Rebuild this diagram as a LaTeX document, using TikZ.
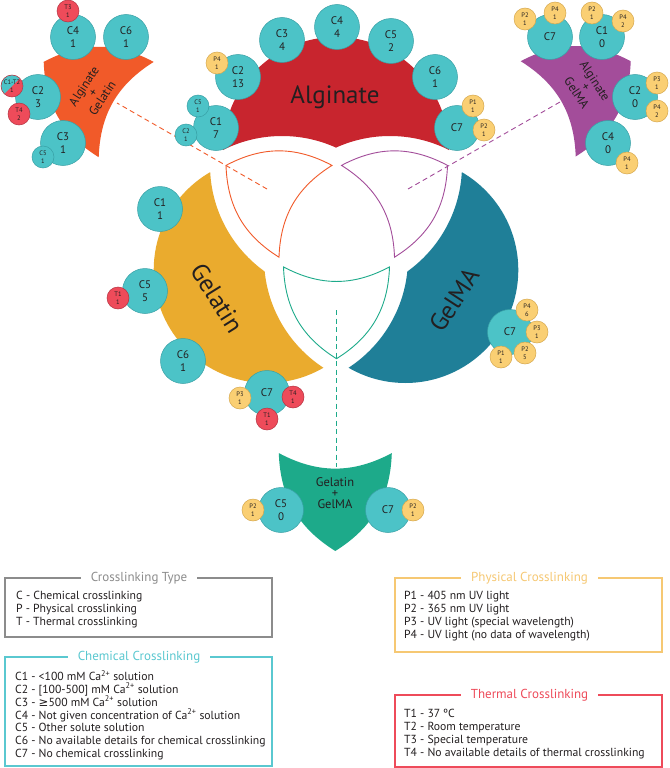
\documentclass[tikz,border=0pt]{standalone}
\usepackage{fontspec}
\setmainfont{PT Sans}
\newfontfamily\symbolfont{DejaVu Sans}
\usepackage{xcolor}
\usepackage{tikz}

\begin{document}
\begin{tikzpicture}[x=1pt,y=-1pt,
  chem/.style={circle,draw=chemLine,fill=chemFill,line width=0.5pt,inner sep=0pt,
    minimum size=45pt,align=center,text=darkText,font=\fontsize{11}{12.7}\selectfont},
  chemsmall/.style={chem,minimum size=22pt,font=\fontsize{6.5}{8}\selectfont},
  phys/.style={chemsmall,draw=physLine,fill=physFill},
  therm/.style={chemsmall,draw=thermLine,fill=thermFill},
  lensline/.style={line width=0.9pt},
  linkline/.style={line width=0.9pt,dash pattern=on 5pt off 3.5pt},
  regiontext/.style={text=darkText,inner sep=0pt,font=\fontsize{25}{30}\selectfont},
  labeltext/.style={text=darkText,inner sep=0pt,align=center,font=\fontsize{12.5}{11}\selectfont},
  boxline/.style={line width=1.6pt},
  boxtitle/.style={fill=white,inner xsep=10pt,inner ysep=1pt,font=\fontsize{13}{15}\selectfont},
  legendtext/.style={text=darkText,inner sep=0pt,anchor=north west,align=left,font=\fontsize{11.7}{12.9}\selectfont}
]
\definecolor{alginateRed}{RGB}{200,37,46}
\definecolor{gelatinGold}{RGB}{234,171,46}
\definecolor{gelmaTeal}{RGB}{31,127,152}
\definecolor{agOrange}{RGB}{241,90,41}
\definecolor{amPurple}{RGB}{163,77,154}
\definecolor{ggGreen}{RGB}{29,170,138}
\definecolor{chemFill}{RGB}{76,195,199}
\definecolor{chemLine}{RGB}{56,160,165}
\definecolor{physFill}{RGB}{250,207,115}
\definecolor{physLine}{RGB}{214,168,78}
\definecolor{thermFill}{RGB}{238,75,90}
\definecolor{thermLine}{RGB}{180,50,65}
\definecolor{boxGray}{RGB}{140,140,140}
\definecolor{boxTeal}{RGB}{90,200,208}
\definecolor{boxYellow}{RGB}{246,200,115}
\definecolor{boxRed}{RGB}{238,75,90}
\definecolor{darkText}{RGB}{35,31,32}
\path[use as bounding box,fill=white] (0,0) rectangle (669,768);

% the three materials
\begin{scope}[even odd rule]
\clip (-10,-10) rectangle (700,800) (282,267) circle (131);
\clip (-10,-10) rectangle (700,800) (390,267) circle (131);
\fill[alginateRed] (336,150) circle (113);
\end{scope}
\begin{scope}[even odd rule]
\clip (-10,-10) rectangle (700,800) (341,165) circle (131);
\clip (-10,-10) rectangle (700,800) (395,258) circle (131);
\fill[gelatinGold] (266.7,270) circle (113);
\end{scope}
\begin{scope}[even odd rule]
\clip (-10,-10) rectangle (700,800) (331,165) circle (131);
\clip (-10,-10) rectangle (700,800) (277,258) circle (131);
\fill[gelmaTeal] (405.3,270) circle (113);
\end{scope}

\node[regiontext] (alginateTxt) at (335,97) {Alginate};
\node[regiontext,rotate=-58] (gelatinTxt) at (217,298) {Gelatin};
\node[regiontext,rotate=57] (gelmaTxt) at (454,300) {GelMA};

% overlaps
\path[draw=agOrange,lensline] (226,165.4) to[bend left=28] (332,165.4) to[bend right=28] (279,257.2) to[bend left=28] (226,165.4) -- cycle;
\path[draw=amPurple,lensline] (341.5,165.4) to[bend left=28] (447.5,165.4) to[bend left=28] (394.5,257.2) to[bend right=28] (341.5,165.4) -- cycle;
\path[draw=ggGreen,lensline] (283.5,266.9) to[bend right=28] (389.5,266.9) to[bend left=28] (336.5,358.7) to[bend left=28] (283.5,266.9) -- cycle;

\coordinate (agIn) at (267,189);
\coordinate (agOut) at (117,103);
\coordinate (amIn) at (408,189);
\coordinate (amOut) at (560,102);
\coordinate (ggIn) at (336,310);
\coordinate (ggOut) at (336,467);
\draw[draw=agOrange,linkline] (agIn) -- (agOut);
\draw[draw=amPurple,linkline] (amIn) -- (amOut);
\draw[draw=ggGreen,linkline] (ggIn) -- (ggOut);

\path[fill=agOrange] (43.7,61.9) to[bend left=28] (153.7,61.9) to[bend right=28] (98.7,157.2) to[bend left=28] (43.7,61.9) -- cycle;
\path[fill=amPurple] (520.7,61.2) to[bend left=28] (630.7,61.2) to[bend left=28] (575.7,156.5) to[bend right=28] (520.7,61.2) -- cycle;
\path[fill=ggGreen] (278.8,453.1) to[bend right=28] (391.8,453.1) to[bend left=28] (335.3,551) to[bend left=28] (278.8,453.1) -- cycle;

\node[labeltext,rotate=57] (agLabel) at (93,92) {Alginate\\+\\Gelatin};
\node[labeltext,rotate=-57] (amLabel) at (586,87) {Alginate\\+\\GelMA};
\node[labeltext] (ggLabel) at (335,493) {Gelatin\\+\\GelMA};

% Alginate + Gelatin
\node[chem] (agC4) at (73,37) {C4\\1};
\node[therm] (agT3) at (68,11) {T3\\1};
\node[chem] (agC6) at (126,37) {C6\\1};
\node[chem] (agC2) at (38,97) {C2\\3};
\begin{scope}
\clip (12,86) circle (11);
\fill[thermFill] (12,86) circle (11);
\fill[chemFill] (30,68) -- (-6,104) -- (-6,68) -- cycle;
\end{scope}
\node[chemsmall,fill=none,draw=thermLine] (agC1T2) at (12,86) {C1-T2\\1};
\node[therm] (agT4) at (19,114) {T4\\2};
\node[chem] (agC3) at (63,143) {C3\\1};
\node[chemsmall] (agC5) at (43,157) {C5\\1};

% Alginate
\node[chem] (alC3) at (282,40) {C3\\4};
\node[chem] (alC4) at (337,27) {C4\\4};
\node[chem] (alC5) at (391,41) {C5\\2};
\node[chem] (alC6) at (435,77) {C6\\1};
\node[chem] (alC7) at (457,128) {C7};
\node[phys] (alP1) at (473,106) {P1\\1};
\node[phys] (alP2) at (484,130) {P2\\1};
\node[chem] (alC2) at (238,77) {C2\\13};
\node[phys] (alP4) at (217,63) {P4\\1};
\node[chem] (alC1) at (216,128) {C1\\7};
\node[chemsmall] (alC5s) at (198,106) {C5\\1};
\node[chemsmall] (alC2s) at (186,135) {C2\\1};

% Alginate + GelMA
\node[chem] (amC7) at (550,37) {C7};
\node[phys] (amC7P2) at (525,19) {P2\\1};
\node[phys] (amC7P4) at (555,13) {P4\\1};
\node[chem] (amC1) at (602,37) {C1\\0};
\node[phys] (amC1P2) at (592,13) {P2\\1};
\node[phys] (amC1P4) at (623,21) {P4\\2};
\node[chem] (amC2) at (635,97) {C2\\0};
\node[phys] (amC2P3) at (657,83) {P3\\1};
\node[phys] (amC2P4) at (657,111) {P4\\2};
\node[chem] (amC4) at (608,143) {C4\\0};
\node[phys] (amC4P4) at (627,163) {P4\\1};

% Gelatin
\node[chem] (geC1) at (160,209) {C1\\1};
\node[chem] (geC5) at (145,291) {C5\\5};
\node[therm] (geC5T1) at (118,298) {T1\\1};
\node[chem] (geC6) at (183,361) {C6\\1};
\node[chem] (geC7) at (267,393) {C7};
\node[phys] (geC7P3) at (240,398) {P3\\1};
\node[therm] (geC7T4) at (293,397) {T4\\1};
\node[therm] (geC7T1) at (267,419) {T1\\1};

% GelMA
\node[chem] (gmC7) at (510,332) {C7};
\node[phys] (gmP4) at (527,310) {P4\\6};
\node[phys] (gmP3) at (537,332) {P3\\1};
\node[phys] (gmP2) at (525,353) {P2\\5};
\node[phys] (gmP1) at (501,357) {P1\\1};

% Gelatin + GelMA
\node[chem] (ggC5) at (281,510) {C5\\0};
\node[phys] (ggC5P2) at (253,510) {P2\\1};
\node[chem] (ggC7) at (388,510) {C7};
\node[phys] (ggC7P2) at (413,510) {P2\\1};

% legend
\path[draw=boxGray,boxline] (5,578) rectangle (272,637);
\node[boxtitle,text=boxGray] (typeTitle) at (139,578) {Crosslinking Type};
\node[legendtext] (typeList) at (16,591) {C - Chemical crosslinking\\P - Physical crosslinking\\T - Thermal crosslinking};

\path[draw=boxTeal,boxline] (5,657) rectangle (272,766);
\node[boxtitle,text=boxTeal] (chemTitle) at (139,657) {Chemical Crosslinking};
\node[legendtext] (chemList) at (15,670) {C1 - <100 mM Ca\textsuperscript{2+} solution\\
C2 - [100-500] mM Ca\textsuperscript{2+} solution\\
C3 - {\symbolfont ≥}500 mM Ca\textsuperscript{2+} solution\\
C4 - Not given concentration of Ca\textsuperscript{2+} solution\\
C5 - Other solute solution\\
C6 - No available details for chemical crosslinking\\
C7 - No chemical crosslinking};

\path[draw=boxYellow,boxline] (395,578) rectangle (662,652);
\node[boxtitle,text=boxYellow] (physTitle) at (529.5,578) {Physical Crosslinking};
\node[legendtext] (physList) at (404,591) {P1 - 405 nm UV light\\P2 - 365 nm UV light\\P3 - UV light (special wavelength)\\P4 - UV light (no data of wavelength)};

\path[draw=boxRed,boxline] (395,695) rectangle (662,767);
\node[boxtitle,text=boxRed] (thermTitle) at (529.5,695) {Thermal Crosslinking};
\node[legendtext] (thermList) at (404,709) {T1 - 37 ºC\\T2 - Room temperature\\T3 - Special temperature\\T4 - No available details of thermal crosslinking};
\end{tikzpicture}
\end{document}
